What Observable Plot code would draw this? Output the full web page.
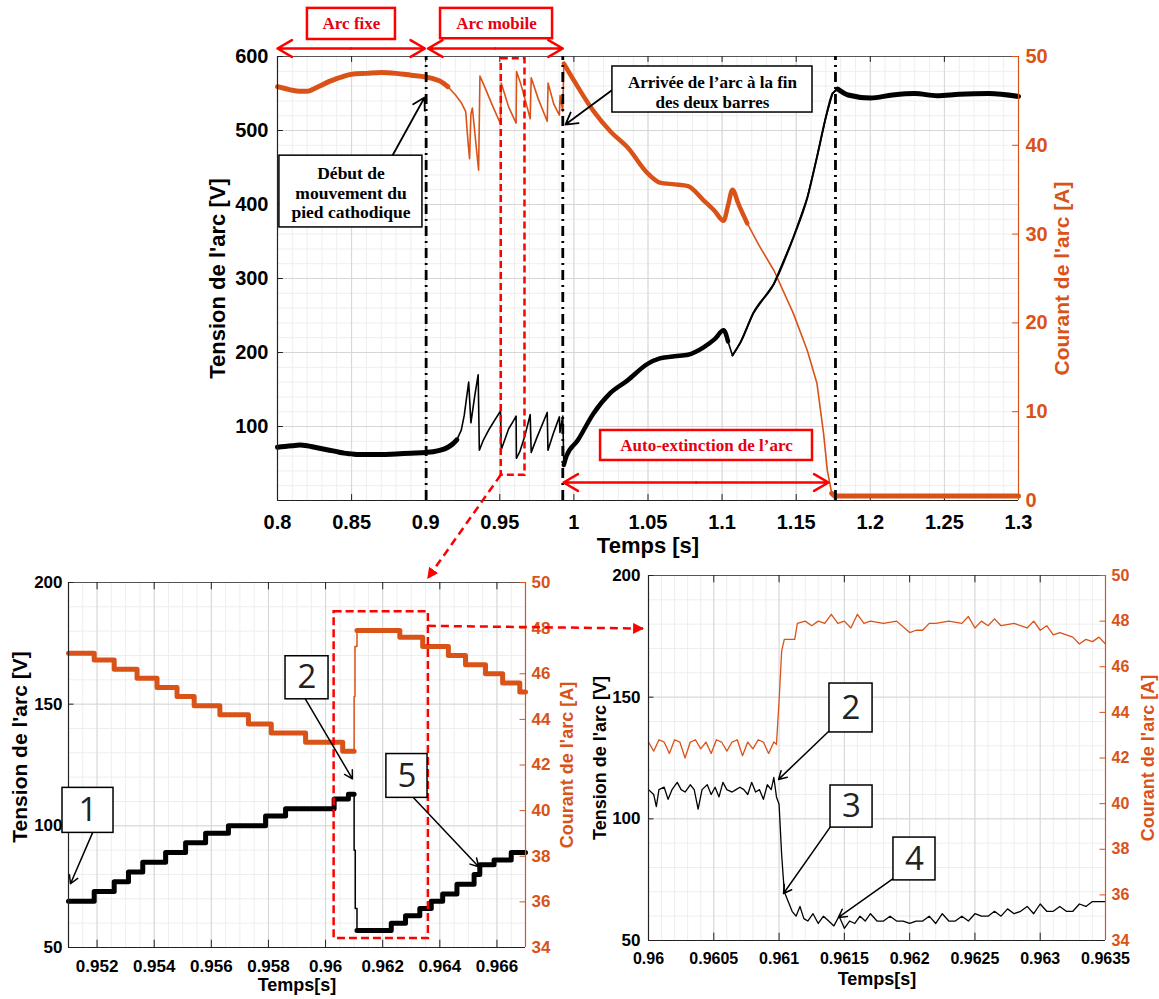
<!DOCTYPE html>
<html><head><meta charset="utf-8">
<script src="https://cdn.jsdelivr.net/npm/d3@7"></script>
<script src="https://cdn.jsdelivr.net/npm/@observablehq/plot@0.6"></script>
<style>
body{margin:0;background:#fff;}
#wrap{position:relative;width:1159px;height:999px;overflow:hidden;background:#fff;}
.panel{position:absolute;}
#overlay{position:absolute;left:0;top:0;pointer-events:none;}
</style></head><body><div id="wrap"></div>
<script>
// ---------------- DATA ----------------
// Top panel: arc voltage [V] and arc current [A] vs time [s]
const topVoltTime = [0.800,0.805,0.810,0.815,0.820,0.825,0.830,0.835,0.840,0.845,0.850,0.855,0.860,0.870,0.880,0.890,0.900,0.905,0.910,0.915,0.918,0.921,0.924,0.926,0.929,0.9305,0.933,0.9354,0.9362,0.939,0.943,0.947,0.9505,0.9510,0.953,0.956,0.959,0.961,0.9612,0.9635,0.967,0.9705,0.9712,0.975,0.982,0.9825,0.986,0.9902,0.9906,0.9925,0.9932,0.995,1.0025,1.013,1.0245,1.036,1.050,1.058,1.068,1.077,1.0875,1.095,1.101,1.104,1.107,1.1125,1.121,1.135,1.148,1.1575,1.164,1.170,1.1745,1.178,1.185,1.200,1.215,1.230,1.245,1.260,1.280,1.300];
const topVolt = [72,73,74,75,74,72,70,68,66,64,63,62,62,62,63,64,65,66,68,72,76,82,95,115,160,105,140,170,68,82,97,110,121,69,80,97,107,114,57,66,88,116,65,85,119,68,90,113,92,114,48,60,81,117,145,162,185,192,195,197,207,218,230,215,196,214,253,293,355,409,464,518,550,556,548,544,548,550,547,549,550,546];
const topCurrTime = [0.800,0.805,0.810,0.815,0.820,0.825,0.830,0.835,0.840,0.845,0.850,0.860,0.870,0.880,0.890,0.900,0.905,0.910,0.915,0.920,0.924,0.927,0.9285,0.9296,0.9305,0.9315,0.934,0.9357,0.9366,0.940,0.945,0.9505,0.9510,0.956,0.961,0.9613,0.964,0.967,0.9705,0.9712,0.976,0.982,0.9826,0.9865,0.9902,0.9907,0.9925,0.9932,1.000,1.013,1.025,1.036,1.050,1.058,1.068,1.077,1.0875,1.095,1.101,1.104,1.107,1.111,1.117,1.125,1.135,1.148,1.1575,1.164,1.1685,1.171,1.174,1.176,1.200,1.250,1.300];
const topCurr = [46.6,46.4,46.2,46.1,46.1,46.4,46.8,47.2,47.5,47.8,48.0,48.1,48.2,48.1,47.9,47.7,47.5,47.2,46.6,45.7,44.8,43.8,40.5,38.5,43.5,44.2,40.0,37.2,47.8,46.5,44.5,42.4,47.0,44.3,42.5,48.3,47.0,45.2,43.0,47.6,45.2,42.7,47.0,44.6,43.4,45.6,43.8,49.2,47.3,43.9,41.5,39.8,36.8,35.8,35.6,35.4,33.8,32.6,31.5,33.2,35.0,33.4,31.2,28.7,25.9,21.1,16.9,13.2,7.5,3.4,0.8,0.5,0.5,0.5,0.5];
const topTimeTicks = [0.8,0.85,0.9,0.95,1,1.05,1.1,1.15,1.2,1.25,1.3];
const topVoltTicks = [100,200,300,400,500,600];
const topCurrTicks = [0,10,20,30,40,50];
const eventTimes = [0.9003, 0.9925, 1.1765];

// Bottom-left zoom (step-like sampled signals)
const blVoltTime = [0.9510,0.9519,0.9526,0.9531,0.9536,0.9544,0.9551,0.9558,0.9566,0.9579,0.9586,0.9603,0.9608,0.96100,0.96104,0.96110,0.9623,0.9628,0.9633,0.9637,0.9641,0.9646,0.9652,0.9654,0.9659,0.9665,0.9670];
const blVolt = [69,73,77,81,85,89,93,97,100,104,107,111,113,90,66,57,60,63,66,69,72,76,80,84,86,89,89];
const blCurrTime = [0.9510,0.9519,0.9526,0.9534,0.9541,0.9548,0.9554,0.9563,0.9573,0.9581,0.9593,0.9606,0.96100,0.96103,0.96110,0.9626,0.9634,0.9643,0.9649,0.9656,0.9662,0.9668,0.9670];
const blCurr = [46.9,46.6,46.2,45.8,45.4,45.0,44.6,44.2,43.8,43.4,43.0,42.6,45.0,47.2,47.9,47.6,47.2,46.8,46.4,46.0,45.6,45.2,45.2];
const blTimeTicks = [0.952,0.954,0.956,0.958,0.96,0.962,0.964,0.966];
const blVoltTicks = [50,100,150,200];
const blCurrTicks = [34,36,38,40,42,44,46,48,50];

// Bottom-right zoom
const brVoltTime = [0.96000,0.96004,0.96006,0.96008,0.96012,0.96015,0.96018,0.96022,0.96025,0.96028,0.96032,0.96035,0.96038,0.96041,0.96045,0.96048,0.96051,0.96054,0.96057,0.96060,0.96064,0.96067,0.96070,0.96073,0.96076,0.96079,0.96082,0.96085,0.96088,0.96091,0.96094,0.96096,0.96098,0.96100,0.96102,0.96104,0.96107,0.96110,0.96113,0.96116,0.96119,0.96122,0.96126,0.96130,0.96134,0.96138,0.96142,0.96146,0.96150,0.96154,0.96158,0.96162,0.96166,0.96170,0.96175,0.96180,0.96185,0.96190,0.96195,0.96200,0.96205,0.96210,0.96215,0.96220,0.96225,0.96230,0.96235,0.96240,0.96245,0.96250,0.96255,0.96260,0.96265,0.96270,0.96275,0.96280,0.96285,0.96290,0.96295,0.96300,0.96305,0.96310,0.96315,0.96320,0.96325,0.96330,0.96335,0.96340,0.96345,0.96350];
const brVolt = [112,110,105,112,113,108,112,115,112,111,114,112,104,112,114,110,113,109,115,112,111,112,113,112,110,115,111,112,108,114,112,117,109,106,85,70,66,62,60,64,59,58,61,57,60,58,56,60,55,58,57,60,58,61,58,58,60,58,58,57,58,58,60,57,61,58,58,60,58,61,60,60,62,60,63,61,62,64,61,65,62,62,64,62,62,65,64,66,66,66];
const brCurrTime = [0.96000,0.96004,0.96008,0.96012,0.96016,0.96020,0.96024,0.96028,0.96032,0.96036,0.96040,0.96044,0.96048,0.96052,0.96056,0.96060,0.96064,0.96068,0.96072,0.96076,0.96080,0.96084,0.96088,0.96092,0.96096,0.96098,0.96100,0.96102,0.96104,0.96112,0.96114,0.96120,0.96125,0.96130,0.96135,0.96140,0.96145,0.96150,0.96155,0.96160,0.96165,0.96170,0.96180,0.96190,0.96200,0.96205,0.96210,0.96215,0.96220,0.96230,0.96240,0.96245,0.96250,0.96255,0.96260,0.96265,0.96270,0.96280,0.96290,0.96295,0.96300,0.96305,0.96310,0.96315,0.96320,0.96325,0.96330,0.96335,0.96340,0.96345,0.96350];
const brCurr = [42.7,42.3,42.8,42.7,42.2,42.8,42.7,42.0,42.7,42.8,42.4,42.7,42.2,42.8,42.7,42.3,42.7,42.8,42.1,42.7,42.4,42.8,42.7,42.2,42.7,42.6,44.5,46.7,47.2,47.2,47.9,48.0,47.8,48.0,47.9,48.3,47.9,48.0,47.7,48.3,47.9,48.0,47.9,48.0,47.5,47.6,47.6,47.9,47.9,48.0,47.9,48.2,47.7,48.0,47.8,48.1,47.8,47.9,47.7,48.0,47.6,47.8,47.4,47.5,47.4,47.3,47.0,47.2,47.1,47.3,47.0];
const brTimeTicks = [0.96,0.9605,0.961,0.9615,0.962,0.9625,0.963,0.9635];
const brVoltTicks = [50,100,150,200];
const brCurrTicks = [34,36,38,40,42,44,46,48,50];

// ---------------- RENDER ----------------
const ORANGE = "#D95319", RED = "#ff0000", TRED = "#e60012";
const SANS = "Liberation Sans, Arial, sans-serif";
const SERIF = "Liberation Serif, Times New Roman, serif";
const NUMF = "Open Sans, Lato, sans-serif";
const GRID = "#d6d6d6", MINOR = "#eeeeee";

const inRange = (data, a, b) => data.filter(d => d.t >= a && d.t <= b);
function stepSlice(data, a, b) {
  const s = data.filter(d => d.t >= a && d.t < b);
  return s.concat([{t: b, v: s[s.length - 1].v}]);
}
const wrap = document.getElementById("wrap");
function place(svg, left, top) {
  const d = document.createElement("div");
  d.className = "panel"; d.style.left = left + "px"; d.style.top = top + "px";
  d.appendChild(svg); wrap.appendChild(d);
}
const boxMark = (x1, x2, y1, y2, o = {}) => Plot.rect([0], {x1, x2, y1, y2, fill: "white", stroke: "black", strokeWidth: 1.5, ...o});
const txt = (s, x, y, o = {}) => Plot.text([s], {x, y, text: d => d, ...o});
const arr = (x1, y1, x2, y2, o = {}) => Plot.arrow([0], {x1, y1, x2, y2, stroke: "black", strokeWidth: 1.5, headLength: 9, ...o});
const dbl = (a, b, y) => [arr((a + b) / 2, y, a, y, {stroke: RED, strokeWidth: 2.5, headLength: 10}), arr((a + b) / 2, y, b, y, {stroke: RED, strokeWidth: 2.5, headLength: 10})];
const numBox = (s, x1, x2, y1, y2) => [boxMark(x1, x2, y1, y2), txt(s, (x1 + x2) / 2, (y1 + y2) / 2, {fontFamily: NUMF, fontSize: 33, fill: "#222"})];
const vLabel = (s, o) => Plot.text([s], {rotate: -90, textAnchor: "middle", lineAnchor: "middle", fontWeight: "bold", text: d => d, ...o});

// ---------- TOP PANEL ----------
const kTop = 600 / 50;
const topV = topVoltTime.map((t, i) => ({t, v: topVolt[i]}));
const topI = topCurrTime.map((t, i) => ({t, v: topCurr[i] * kTop}));
const topMinorX = d3.range(80, 131).map(i => i / 100);
const topMinorY = d3.range(0, 601, 20);
const lineO = (stroke, w, curve = "linear") => ({x: "t", y: "v", stroke, strokeWidth: w, strokeLinejoin: "round", curve});
const topCurrPos = topCurrTicks.map(c => c * kTop);

const topChart = Plot.plot({
  width: 1159, height: 560,
  marginLeft: 277, marginRight: 141, marginTop: 56, marginBottom: 60,
  x: {domain: [0.8, 1.3]},
  y: {domain: [0, 600]},
  style: {fontFamily: SANS, background: "transparent", overflow: "visible"},
  marks: [
    Plot.gridX(topMinorX, {stroke: MINOR, strokeOpacity: 1}),
    Plot.gridY(topMinorY, {stroke: MINOR, strokeOpacity: 1}),
    Plot.gridX(topTimeTicks, {stroke: GRID, strokeOpacity: 1}),
    Plot.gridY(topVoltTicks, {stroke: GRID, strokeOpacity: 1}),
    Plot.ruleY([600], {stroke: "#555"}),
    Plot.ruleX(topTimeTicks, {y1: 0, y2: 8, stroke: "#222"}),
    Plot.ruleX(topTimeTicks, {y1: 592, y2: 600, stroke: "#222"}),
    Plot.ruleY(topVoltTicks, {x1: 0.8, x2: 0.804, stroke: "#222"}),
    Plot.ruleY(topCurrPos, {x1: 1.296, x2: 1.3, stroke: ORANGE}),
    Plot.axisX(topTimeTicks, {tickSize: 0, tickPadding: 14, fontSize: 20, fontWeight: "bold", label: null, tickFormat: d => String(d)}),
    Plot.axisY(topVoltTicks, {anchor: "left", tickSize: 0, tickPadding: 9, fontSize: 20, fontWeight: "bold", label: null}),
    Plot.axisY(topCurrPos, {anchor: "right", tickSize: 0, tickPadding: 7, fontSize: 20, fontWeight: "bold", color: ORANGE, label: null, tickFormat: d => String(Math.round(d / kTop))}),
    vLabel("Tension de l'arc [V]", {frameAnchor: "left", dx: -60, fontSize: 22}),
    vLabel("Courant de l'arc [A]", {frameAnchor: "right", dx: 44, fontSize: 21, fill: ORANGE}),
    Plot.text(["Temps [s]"], {frameAnchor: "bottom", dy: 52, fontSize: 22, fontWeight: "bold", text: d => d}),
    // curves
    Plot.line(topI, lineO(ORANGE, 1.6)),
    Plot.line(inRange(topI, 0.8, 0.918), lineO(ORANGE, 5, "monotone-x")),
    Plot.line(inRange(topI, 0.9932, 1.12), lineO(ORANGE, 4.5, "monotone-x")),
    Plot.line(inRange(topI, 1.174, 1.3), lineO(ORANGE, 5)),
    Plot.line(topV, lineO("black", 1.6)),
    Plot.line(inRange(topV, 1.105, 1.18), lineO("black", 2, "monotone-x")),
    Plot.line(inRange(topV, 0.8, 0.921), lineO("black", 5, "monotone-x")),
    Plot.line(inRange(topV, 0.9932, 1.105), lineO("black", 4.5, "monotone-x")),
    Plot.line(inRange(topV, 1.176, 1.3), lineO("black", 5, "monotone-x")),
    // frame lines
    Plot.ruleY([0], {stroke: "#222", strokeWidth: 1.2}),
    Plot.ruleX([0.8], {stroke: "#222", strokeWidth: 1.2}),
    Plot.ruleX([1.3], {stroke: ORANGE, strokeWidth: 1.2}),
    // event markers
    Plot.ruleX(eventTimes, {y1: 0, y2: 600, stroke: "black", strokeWidth: 2.8, strokeDasharray: "10,5,2,5"}),
    // zoom rectangle
    Plot.rect([0], {x1: 0.951, x2: 0.967, y1: 34, y2: 597, fill: "none", stroke: RED, strokeWidth: 2.5, strokeDasharray: "7,4"}),
    // phase labels
    ...dbl(0.8, 0.8995, 610.8),
    ...dbl(0.9016, 0.9925, 610.8),
    boxMark(0.8202, 0.8796, 623, 665, {stroke: RED, strokeWidth: 2.5}),
    txt("Arc fixe", 0.8499, 644, {fontFamily: SERIF, fontWeight: "bold", fontSize: 17, fill: TRED}),
    boxMark(0.9100, 0.9856, 624, 665, {stroke: RED, strokeWidth: 2.5}),
    txt("Arc mobile", 0.9478, 644, {fontFamily: SERIF, fontWeight: "bold", fontSize: 17, fill: TRED}),
    // callouts
    arr(0.8776, 466.2, 0.8992, 544.6, {strokeWidth: 1.8, headLength: 11}),
    boxMark(0.8013, 0.8978, 369, 466),
    txt("Début de\nmouvement du\npied cathodique", 0.8496, 416.5, {fontFamily: SERIF, fontWeight: "bold", fontSize: 17.5, lineHeight: 1.12}),
    arr(1.0254, 554, 0.9943, 508, {strokeWidth: 1.8, headLength: 11}),
    boxMark(1.026, 1.161, 524.3, 586.5),
    txt("Arrivée de l’arc à la fin\ndes deux barres", 1.0935, 553, {fontFamily: SERIF, fontWeight: "bold", fontSize: 17, lineHeight: 1.18}),
    ...dbl(0.993, 1.1718, 24.3),
    boxMark(1.018, 1.161, 54.1, 94.6, {stroke: RED, strokeWidth: 2.5}),
    txt("Auto-extinction de l’arc", 1.0895, 74.3, {fontFamily: SERIF, fontWeight: "bold", fontSize: 17, fill: TRED})
  ]
});
place(topChart, 0, 0);

// ---------- helpers for bottom panels ----------
const kB = 150 / 16; // A -> position on the 50..200 V axis (34..50 A)
const curPos = c => 50 + (c - 34) * kB;

function bottomPanel(cfg) {
  const V = cfg.voltTime.map((t, i) => ({t, v: cfg.volt[i]}));
  const I = cfg.currTime.map((t, i) => ({t, v: curPos(cfg.curr[i])}));
  const cTicks = cfg.currTicks.map(curPos);
  const xd = cfg.domain, xr = xd[1] - xd[0], tk = xr * 0.012;
  return Plot.plot({
    width: cfg.width, height: 440,
    marginLeft: 68, marginRight: cfg.mr, marginTop: cfg.mt, marginBottom: 440 - cfg.mt - 365,
    x: {domain: xd},
    y: {domain: [50, 200]},
    style: {fontFamily: SANS, background: "transparent", overflow: "visible"},
    marks: [
      Plot.gridX(cfg.minorX, {stroke: MINOR, strokeOpacity: 1}),
      Plot.gridY(d3.range(50, 201, 10), {stroke: MINOR, strokeOpacity: 1}),
      Plot.gridX(cfg.timeTicks, {stroke: GRID, strokeOpacity: 1}),
      Plot.gridY(cfg.voltTicks, {stroke: GRID, strokeOpacity: 1}),
      Plot.ruleY([200], {stroke: "#555"}),
      Plot.ruleX(cfg.timeTicks, {y1: 50, y2: 53, stroke: "#222"}),
      Plot.ruleX(cfg.timeTicks, {y1: 197, y2: 200, stroke: "#222"}),
      Plot.ruleY(cfg.voltTicks, {x1: xd[0], x2: xd[0] + tk, stroke: "#222"}),
      Plot.ruleY(cTicks, {x1: xd[1] - tk, x2: xd[1], stroke: ORANGE}),
      Plot.axisX(cfg.timeTicks, {tickSize: 0, tickPadding: cfg.xpad, fontSize: cfg.xfs, fontWeight: "bold", label: null, tickFormat: d => String(d)}),
      Plot.axisY(cfg.voltTicks, {anchor: "left", tickSize: 0, tickPadding: cfg.ypad, fontSize: 17, fontWeight: "bold", label: null}),
      Plot.axisY(cTicks, {anchor: "right", tickSize: 0, tickPadding: 6, fontSize: cfg.cfs, fontWeight: "bold", color: ORANGE, label: null, tickFormat: d => String(Math.round(34 + (d - 50) / kB))}),
      vLabel("Tension de l'arc [V]", {frameAnchor: "left", dx: -48, dy: cfg.tdy, fontSize: cfg.tfs}),
      vLabel("Courant de l'arc [A]", {frameAnchor: "right", dx: cfg.cdx, fontSize: 18, fill: ORANGE}),
      Plot.text(["Temps[s]"], {frameAnchor: "bottom", dy: cfg.xdy, fontSize: 18, fontWeight: "bold", text: d => d}),
      ...cfg.lines(V, I),
      Plot.ruleY([50], {stroke: "#222", strokeWidth: 1.2}),
      Plot.ruleX([xd[0]], {stroke: "#222", strokeWidth: 1.2}),
      Plot.ruleX([xd[1]], {stroke: ORANGE, strokeWidth: 1.2}),
      ...cfg.extra
    ]
  });
}

// ---------- BOTTOM-LEFT ----------
const stepO = (stroke, w) => ({x: "t", y: "v", stroke, strokeWidth: w, curve: "step-after", strokeLinejoin: "round"});
const blChart = bottomPanel({
  width: 580, mr: 55, mt: 22, domain: [0.951, 0.967],
  minorX: d3.range(9510, 9671, 5).map(i => i / 10000),
  timeTicks: blTimeTicks, voltTicks: blVoltTicks, currTicks: blCurrTicks,
  voltTime: blVoltTime, volt: blVolt, currTime: blCurrTime, curr: blCurr,
  xpad: 12, xfs: 17, cfs: 17, ypad: 6, tdy: -18, tfs: 21, cdx: 42, xdy: 43,
  lines: (V, I) => [
    Plot.line(I, stepO(ORANGE, 1.5)),
    Plot.line(stepSlice(I, 0.951, 0.961), stepO(ORANGE, 5)),
    Plot.line(stepSlice(I, 0.9611, 0.967), stepO(ORANGE, 5)),
    Plot.line(V, stepO("black", 1.5)),
    Plot.line(stepSlice(V, 0.951, 0.961), stepO("black", 5)),
    Plot.line(stepSlice(V, 0.9611, 0.967), stepO("black", 5))
  ],
  extra: [
    Plot.rect([0], {x1: 0.9603, x2: 0.9636, y1: 53.7, y2: 188, fill: "none", stroke: RED, strokeWidth: 2.5, strokeDasharray: "8,4"}),
    arr(0.95184, 97.1, 0.95107, 76.2),
    ...numBox("1", 0.95079, 0.952576, 97.1, 115.6),
    arr(0.9593, 152, 0.96094, 119.3),
    ...numBox("2", 0.958598, 0.960104, 152.0, 169.7),
    arr(0.96308, 111.5, 0.96536, 83.2),
    ...numBox("5", 0.96213, 0.96357, 111.5, 129.5)
  ]
});
place(blChart, 0, 560);

// ---------- BOTTOM-RIGHT ----------
const brChart = bottomPanel({
  width: 579, mr: 54, mt: 15, domain: [0.96, 0.9635],
  minorX: d3.range(9600, 9636).map(i => i / 10000),
  timeTicks: brTimeTicks, voltTicks: brVoltTicks, currTicks: brCurrTicks,
  voltTime: brVoltTime, volt: brVolt, currTime: brCurrTime, curr: brCurr,
  xpad: 12, xfs: 16, cfs: 16, ypad: 8, tdy: 0, tfs: 18, cdx: 43, xdy: 44,
  lines: (V, I) => [
    Plot.line(I, lineO(ORANGE, 1.3)),
    Plot.line(V, lineO("black", 1.3))
  ],
  extra: [
    arr(0.961379, 135.9, 0.960996, 116.2),
    ...numBox("2", 0.961386, 0.961716, 135.5, 155.6),
    arr(0.961394, 96.8, 0.961034, 69.3),
    ...numBox("3", 0.961394, 0.961716, 96.4, 113.7),
    arr(0.961876, 75.5, 0.961455, 59.5),
    ...numBox("4", 0.961876, 0.962198, 74.7, 92.3)
  ]
});
place(brChart, 580, 560);

// ---------- cross-panel zoom connectors ----------
const P = (chart, ox, oy, x, y) => [chart.scale("x").apply(x) + ox, chart.scale("y").apply(y) + oy];
const a0 = P(topChart, 0, 0, 0.951, 34);
const a1 = P(blChart, 0, 560, 0.9636, 200); a1[1] -= 4;
const b0 = P(blChart, 0, 560, 0.9636, 182);
const b1 = P(brChart, 580, 560, 0.96, 178); b1[0] -= 5;
const ov = document.createElementNS("http://www.w3.org/2000/svg", "svg");
ov.setAttribute("id", "overlay"); ov.setAttribute("width", 1159); ov.setAttribute("height", 999);
ov.innerHTML = `<defs><marker id="rh" viewBox="0 0 10 10" refX="9" refY="5" markerWidth="11" markerHeight="11" markerUnits="userSpaceOnUse" orient="auto"><path d="M0,0L10,5L0,10z" fill="${RED}"/></marker></defs>
<line x1="${a0[0]}" y1="${a0[1]}" x2="${a1[0]}" y2="${a1[1]}" stroke="${RED}" stroke-width="2.5" stroke-dasharray="8,5" marker-end="url(#rh)"/>
<line x1="${b0[0]}" y1="${b0[1]}" x2="${b1[0]}" y2="${b1[1]}" stroke="${RED}" stroke-width="2.5" stroke-dasharray="8,5" marker-end="url(#rh)"/>`;
wrap.appendChild(ov);
</script>
</body></html>
